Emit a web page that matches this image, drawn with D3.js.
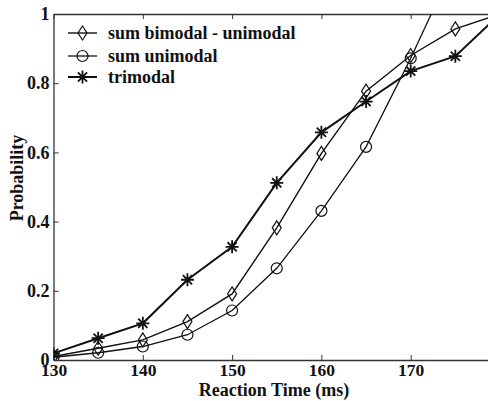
<!DOCTYPE html>
<html>
<head>
<meta charset="utf-8">
<script src="https://cdn.jsdelivr.net/npm/d3@7"></script>
<style>
  html, body { margin: 0; padding: 0; background: #fff; overflow: hidden; }
  svg { display: block; }
</style>
</head>
<body>
<script>
// reaction times (ms)
var times = [130, 135, 140, 145, 150, 155, 160, 165, 170, 175, 180];
// series values
var bimodalMinusUni = [0.01, 0.034, 0.058, 0.111, 0.191, 0.382, 0.597, 0.777, 0.88, 0.957, 1.0];
var sumUnimodal     = [0.008, 0.021, 0.039, 0.073, 0.143, 0.265, 0.431, 0.616, 0.872, 1.15];
var trimodal        = [0.019, 0.063, 0.106, 0.232, 0.327, 0.512, 0.658, 0.747, 0.835, 0.878, 1.0];
var xTicks = [130, 140, 150, 160, 170, 180];
var xTickLabels = [130, 140, 150, 160, 170];
var yTicks = [0, 0.2, 0.4, 0.6, 0.8, 1];
var legendNames = ['sum bimodal - unimodal', 'sum unimodal', 'trimodal'];

var serif = '"Liberation Serif"';
var width = 488, height = 401;
var svg = d3.select('body').append('svg').attr('width', width).attr('height', height);

var x = d3.scaleLinear().domain([130, 180]).range([53.5, 500]);
var y = d3.scaleLinear().domain([0, 1]).range([360, 14]);

// clip for the data
svg.append('defs').append('clipPath').attr('id', 'plotClip')
  .append('rect')
  .attr('x', x(130)).attr('y', y(1))
  .attr('width', x(180) - x(130)).attr('height', y(0) - y(1));

// axes (ticks pointing inward, matlab style)
var fmtY = function(d) { return d === 0 ? '0' : d === 1 ? '1' : d3.format('.1f')(d); };

function styleText(g, size) {
  g.attr('font-family', serif);
  g.selectAll('text')
    .style('font-family', serif).attr('font-weight', 'bold')
    .attr('font-size', size).attr('fill', '#111');
}

svg.append('g')
  .attr('transform', 'translate(0,' + y(0) + ')')
  .call(d3.axisBottom(x).tickValues(xTicks).tickSizeInner(-5).tickSizeOuter(0).tickFormat(''));

svg.append('g')
  .attr('transform', 'translate(0,' + y(0) + ')')
  .call(d3.axisBottom(x).tickValues(xTickLabels).tickSize(0).tickPadding(5))
  .call(function(g) {
    g.select('.domain').remove();
    styleText(g, 17.5);
    g.selectAll('text').attr('dy', '0.62em');
  });

svg.append('g')
  .attr('transform', 'translate(0,' + y(1) + ')')
  .call(d3.axisTop(x).tickValues(xTicks).tickSizeInner(-5).tickSizeOuter(0).tickFormat(''));

svg.append('g')
  .attr('transform', 'translate(' + x(130) + ',0)')
  .call(d3.axisLeft(y).tickValues(yTicks).tickSizeInner(-5).tickSizeOuter(0).tickPadding(4).tickFormat(fmtY))
  .call(function(g) { styleText(g, 18); });

svg.selectAll('.domain').attr('stroke', '#333').attr('stroke-width', 1.3);
svg.selectAll('.tick line').attr('stroke', '#333');

// axis titles
svg.append('text')
  .attr('x', 274).attr('y', 396)
  .attr('text-anchor', 'middle')
  .style('font-family', serif).attr('font-weight', 'bold').attr('font-size', 18).attr('fill', '#111')
  .text('Reaction Time (ms)');

svg.append('text')
  .attr('transform', 'translate(23,178) rotate(-90)')
  .attr('text-anchor', 'middle')
  .style('font-family', serif).attr('font-weight', 'bold').attr('font-size', 18).attr('fill', '#111')
  .text('Probability');

// marker shapes
var diamondPath = 'M0,-7L4.5,0L0,7L-4.5,0Z';
var asteriskPath = 'M-6.5,0L6.5,0M0,-6.5L0,6.5M-4.6,-4.6L4.6,4.6M-4.6,4.6L4.6,-4.6';

function drawMarker(g, kind, cx, cy) {
  if (kind === 'diamond') {
    g.append('path').attr('d', diamondPath).attr('transform', 'translate(' + cx + ',' + cy + ')')
      .attr('fill', 'none').attr('stroke', '#111').attr('stroke-width', 1.2);
  } else if (kind === 'circle') {
    g.append('circle').attr('cx', cx).attr('cy', cy).attr('r', 5.5)
      .attr('fill', 'none').attr('stroke', '#111').attr('stroke-width', 1.2);
  } else {
    g.append('path').attr('d', asteriskPath).attr('transform', 'translate(' + cx + ',' + cy + ')')
      .attr('fill', 'none').attr('stroke', '#111').attr('stroke-width', 1.8);
  }
}

var seriesList = [
  { values: bimodalMinusUni, marker: 'diamond', width: 1.4 },
  { values: sumUnimodal, marker: 'circle', width: 1.3 },
  { values: trimodal, marker: 'asterisk', width: 2 }
];

var plot = svg.append('g').attr('clip-path', 'url(#plotClip)');
var line = d3.line().x(function(d, i) { return x(times[i]); }).y(function(d) { return y(d); });

seriesList.forEach(function(s) {
  plot.append('path').datum(s.values).attr('d', line)
    .attr('fill', 'none').attr('stroke', '#111').attr('stroke-width', s.width);
  s.values.forEach(function(v, i) {
    drawMarker(plot, s.marker, x(times[i]), y(v));
  });
});

// legend
var legend = svg.append('g');
var legendY = [33, 56, 77];
seriesList.forEach(function(s, i) {
  legend.append('line').attr('x1', 68).attr('x2', 97).attr('y1', legendY[i]).attr('y2', legendY[i])
    .attr('stroke', '#111').attr('stroke-width', s.width);
  drawMarker(legend, s.marker, 82.5, legendY[i]);
  legend.append('text')
    .attr('x', 108).attr('y', legendY[i]).attr('dy', '0.35em')
    .style('font-family', serif).attr('font-weight', 'bold').attr('font-size', 18).attr('fill', '#111')
    .text(legendNames[i]);
});
</script>
</body>
</html>
